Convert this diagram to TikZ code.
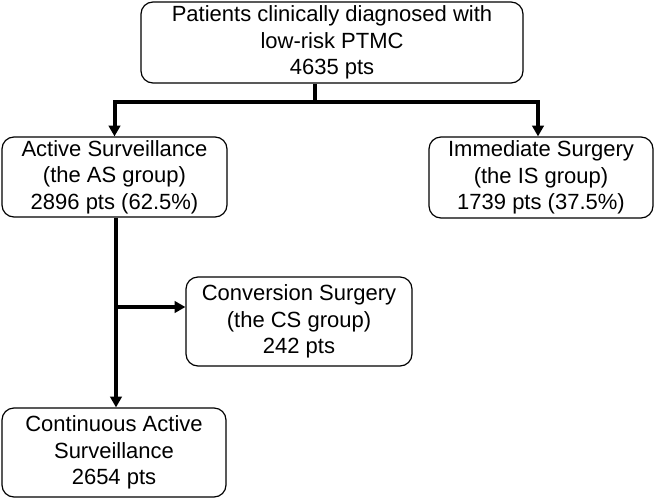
\documentclass[tikz,border=0pt]{standalone}
\usepackage{fontspec}
\setmainfont{Liberation Sans}
\usetikzlibrary{arrows.meta}
\tikzstyle{box}=[draw, rounded corners=9pt, line width=0.9pt, align=center, inner sep=0pt, font=\fontsize{16.5}{20}\selectfont]
\tikzstyle{flow}=[line width=3pt, -{Triangle[length=8pt,width=8.5pt]}]

\begin{document}
\begin{tikzpicture}[x=0.75pt,y=-0.75pt]
\useasboundingbox (0,0) rectangle (656,500);
\node[box, minimum width=286.5pt, minimum height=60.75pt] at (332,42.5) (Root) {Patients clinically diagnosed with\\low-risk PTMC\\4635 pts};
\node[box, minimum width=168.75pt, minimum height=60pt] at (114.5,177) (AS) {Active Surveillance\\(the AS group)\\2896 pts (62.5\%)};
\node[box, minimum width=168pt, minimum height=60.75pt] at (541,177.5) (IS) {Immediate Surgery\\(the IS group)\\1739 pts (37.5\%)};
\node[box, minimum width=169.5pt, minimum height=66.75pt] at (299,321.5) (CS) {Conversion Surgery\\(the CS group)\\242 pts};
\node[box, minimum width=168pt, minimum height=66.75pt] at (114,452.5) (CAS) {Continuous Active\\Surveillance\\2654 pts};
\coordinate (Split) at (315,102);
\coordinate (Fork) at (116,307);
\draw[line width=3pt] (Root.south -| Split) -- (Split);
\draw[flow] (Split) -| (AS.north);
\draw[flow] (Split) -| (IS.north -| 538,0);
\draw[flow] (AS.south -| Fork) -- (CAS.north -| Fork);
\draw[flow] (Fork) -- (CS.west |- Fork);
\end{tikzpicture}
\end{document}
